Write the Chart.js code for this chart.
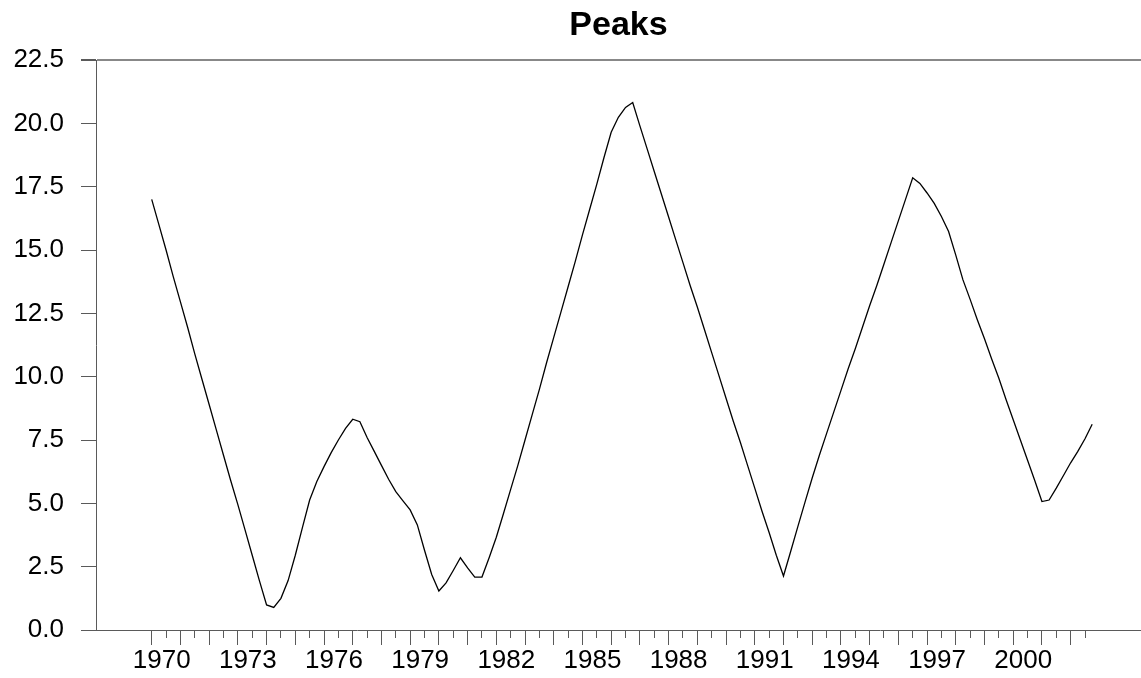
<!DOCTYPE html>
<html>
<head>
<meta charset="utf-8">
<title>Peaks</title>
<script src="https://cdn.jsdelivr.net/npm/chart.js@4.4.1/dist/chart.umd.min.js"></script>
<style>
	html, body { margin: 0; padding: 0; background: #fff; }
	#wrap { width: 1141px; height: 678px; }
</style>
</head>
<body>
<div id="wrap"><canvas id="grafik_peaks" width="1141" height="678"></canvas></div>
<script>
// quarterly series, first value at 1970 Q1
var startYear = 1970;
var peaks = [
	17.0, 16.0, 15.0, 13.95,
	12.95, 11.95, 10.9, 9.9,
	8.9, 7.9, 6.9, 5.9,
	4.95, 3.95, 2.95, 1.95,
	0.99, 0.89, 1.25, 1.95,
	2.95, 4.05, 5.13, 5.86,
	6.45, 7.0, 7.5, 7.96,
	8.32, 8.22, 7.6, 7.05,
	6.5, 5.95, 5.46, 5.1,
	4.74, 4.15, 3.15, 2.19,
	1.54, 1.86, 2.35, 2.85,
	2.45, 2.09, 2.09, 2.85,
	3.66, 4.6, 5.55, 6.5,
	7.5, 8.5, 9.5, 10.55,
	11.55, 12.55, 13.55, 14.55,
	15.6, 16.6, 17.6, 18.65,
	19.65, 20.24, 20.63, 20.82,
	19.9, 19.0, 18.1, 17.2,
	16.3, 15.4, 14.5, 13.6,
	12.75, 11.85, 10.95, 10.05,
	9.15, 8.25, 7.4, 6.5,
	5.6, 4.7, 3.85, 2.95,
	2.13, 3.1, 4.08, 5.05,
	6.0, 6.9, 7.75, 8.6,
	9.45, 10.3, 11.1, 11.95,
	12.8, 13.6, 14.45, 15.3,
	16.15, 17.0, 17.85, 17.63,
	17.25, 16.84, 16.32, 15.73,
	14.8, 13.82, 13.05, 12.25,
	11.5, 10.7, 9.94, 9.1,
	8.3, 7.5, 6.7, 5.9,
	5.07, 5.13, 5.6, 6.1,
	6.6, 7.05, 7.55, 8.12
];
var xTickLabels = ['1970', '1973', '1976', '1979', '1982', '1985', '1988', '1991', '1994', '1997', '2000'];
var yTicks = [0, 2.5, 5, 7.5, 10, 12.5, 15, 17.5, 20, 22.5];

var points = [];
for (var i = 0; i < peaks.length; i++) {
	points.push({ x: startYear + i / 4, y: peaks[i] });
}

var axisColor = '#5a5a5a';
Chart.defaults.font.family = "'Liberation Sans', Arial, sans-serif";
Chart.defaults.color = '#000';

var ctx = document.getElementById('grafik_peaks');
var lineGraph = new Chart(ctx, {
	type: 'line',
	data: {
		datasets: [{
			label: 'Peaks',
			data: points,
			borderColor: '#000',
			borderWidth: 1.3,
			pointRadius: 0,
			tension: 0,
			fill: false
		}]
	},
	options: {
		responsive: false,
		animation: false,
		devicePixelRatio: 1,
		layout: { padding: 0 },
		plugins: {
			legend: { display: false },
			tooltip: { enabled: false },
			title: {
				display: true,
				text: 'Peaks',
				fullSize: false,
				font: { size: 34, weight: 'bold' },
				color: '#000',
				padding: { top: 5, bottom: 14.2 }
			}
		},
		scales: {
			x: {
				type: 'linear',
				min: 1968.06,
				max: 2004.45,
				afterBuildTicks: function (scale) {
					var t = [];
					for (var k = 0; k <= 65; k++) t.push({ value: 1970 + k / 2 });
					scale.ticks = t;
				},
				afterFit: function (scale) { scale.height = 48; },
				border: { display: true, color: axisColor, width: 1 },
				grid: {
					drawOnChartArea: false,
					drawTicks: true,
					tickLength: 15,
					tickColor: axisColor,
					tickBorderDash: function (c) {
						return Number.isInteger(c.tick.value) ? [] : [7, 30];
					}
				},
				ticks: {
					autoSkip: false,
					maxRotation: 0,
					padding: 0,
					labelOffset: 10,
					font: { size: 26 },
					color: '#000',
					callback: function (value) {
						var s = String(value);
						return xTickLabels.indexOf(s) >= 0 ? s : '';
					}
				}
			},
			y: {
				min: 0,
				max: 22.5,
				afterBuildTicks: function (scale) {
					scale.ticks = yTicks.map(function (v) { return { value: v }; });
				},
				afterFit: function (scale) { scale.width = 96; },
				border: { display: true, color: axisColor, width: 1 },
				grid: {
					drawTicks: true,
					tickLength: 15,
					tickColor: axisColor,
					color: function (c) {
						return c.tick && c.tick.value === 22.5 ? '#888' : 'transparent';
					},
					lineWidth: function (c) {
						return c.tick && c.tick.value === 22.5 ? 2 : 1;
					}
				},
				ticks: {
					autoSkip: false,
					padding: 17,
					font: { size: 26 },
					color: '#000',
					callback: function (value) { return Number(value).toFixed(1); }
				}
			}
		}
	}
});
</script>
</body>
</html>
